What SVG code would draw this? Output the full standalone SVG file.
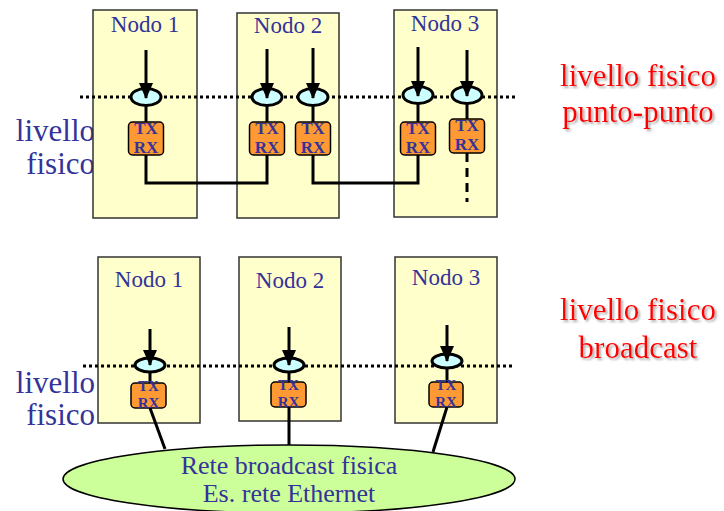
<svg xmlns="http://www.w3.org/2000/svg" width="724" height="511" viewBox="0 0 724 511">
<defs>
<style>
text{font-family:"Liberation Serif","Times New Roman",serif}
.box{fill:#ffffcc;stroke:#333333;stroke-width:1.5}
.lbl{font-size:23px;fill:#333399;text-anchor:middle}
.side{font-size:31px;fill:#333399;text-anchor:end}
.red{font-size:31px;fill:#ff0000;text-anchor:middle;filter:url(#sh)}
.dot{stroke:#000;stroke-width:3;stroke-dasharray:3 3;fill:none}
.port{fill:#ccffff;stroke:#000;stroke-width:3}
.tx{fill:#ff9933;stroke:#000;stroke-width:1.5}
.txt{font-size:17px;font-weight:bold;fill:#333399;text-anchor:middle}
.txs{font-size:15px;font-weight:bold;fill:#333399;text-anchor:middle}
.wire{stroke:#000;stroke-width:3;fill:none}
.arr{stroke:#000;stroke-width:3;fill:none;marker-end:url(#ah)}
.net{fill:#ccff99;stroke:#000;stroke-width:1.5}
.nett{font-size:26px;fill:#333399;text-anchor:middle}
</style>
<marker id="ah" viewBox="0 0 16 14" refX="15" refY="7" markerWidth="16" markerHeight="14" markerUnits="userSpaceOnUse" orient="auto">
<path d="M0,0 L16,7 L0,14 z" fill="#000"/>
</marker>
<filter id="sh" x="-10%" y="-20%" width="130%" height="150%">
<feDropShadow dx="2" dy="2" stdDeviation="0.8" flood-color="#999999" flood-opacity="0.8"/>
</filter>
</defs>

<g id="labels">
<text class="side" x="95" y="141">livello</text>
<text class="side" x="95" y="174">fisico</text>
<text class="side" x="95" y="393">livello</text>
<text class="side" x="95" y="425">fisico</text>
<text class="red" x="638" y="86">livello fisico</text>
<text class="red" x="638" y="122">punto-punto</text>
<text class="red" x="638" y="320">livello fisico</text>
<text class="red" x="638" y="358">broadcast</text>
</g>

<g id="top-nodo1"><rect class="box" x="93" y="10" width="104" height="208"/><text class="lbl" x="145" y="32">Nodo 1</text></g>
<g id="top-nodo2"><rect class="box" x="237" y="13" width="102" height="205"/><text class="lbl" x="288" y="33">Nodo 2</text></g>
<g id="top-nodo3"><rect class="box" x="394" y="10" width="103" height="207"/><text class="lbl" x="445" y="31">Nodo 3</text></g>

<g id="bot-nodo1"><rect class="box" x="98" y="257" width="102" height="166"/><text class="lbl" x="149" y="287">Nodo 1</text></g>
<g id="bot-nodo2"><rect class="box" x="239" y="257" width="102" height="164"/><text class="lbl" x="290" y="288">Nodo 2</text></g>
<g id="bot-nodo3"><rect class="box" x="395" y="257" width="102" height="166"/><text class="lbl" x="446" y="285">Nodo 3</text></g>

<g id="levels">
<line class="dot" x1="80" y1="97" x2="515" y2="97"/>
<line class="dot" x1="83" y1="366" x2="512" y2="366"/>
</g>

<g id="connectors">
<line class="wire" x1="146" y1="105" x2="146" y2="122"/>
<line class="wire" x1="267" y1="105" x2="267" y2="122"/>
<line class="wire" x1="313" y1="105" x2="313" y2="122"/>
<line class="wire" x1="418" y1="103" x2="418" y2="122"/>
<line class="wire" x1="467" y1="103" x2="467" y2="119"/>
<polyline class="wire" points="146,155 146,183 267,183 267,155"/>
<polyline class="wire" points="313,155 313,183 418,183 418,155"/>
<line class="wire" x1="467" y1="153" x2="467" y2="202" stroke-dasharray="9 6"/>
<line class="wire" x1="150" y1="372" x2="150" y2="383"/>
<line class="wire" x1="289" y1="372" x2="289" y2="382"/>
<line class="wire" x1="447" y1="368" x2="447" y2="382"/>
<line class="wire" x1="150" y1="408" x2="165" y2="449"/>
<line class="wire" x1="289" y1="407" x2="289" y2="446"/>
<line class="wire" x1="447" y1="407" x2="433" y2="452"/>
</g>

<g id="rete">
<ellipse class="net" cx="289" cy="479" rx="226" ry="34"/>
<text class="nett" x="289" y="474">Rete broadcast fisica</text>
<text class="nett" x="289" y="502">Es. rete Ethernet</text>
</g>

<g id="port-t1"><ellipse class="port" cx="146" cy="97" rx="15" ry="8.5"/><rect class="tx" x="128.5" y="122" width="35" height="33" rx="4"/><text class="txt" x="146" y="134">TX</text><text class="txt" x="146" y="153">RX</text></g>
<g id="port-t2"><ellipse class="port" cx="267" cy="97" rx="15" ry="8.5"/><rect class="tx" x="249.5" y="122" width="35" height="33" rx="4"/><text class="txt" x="267" y="134">TX</text><text class="txt" x="267" y="153">RX</text></g>
<g id="port-t3"><ellipse class="port" cx="313" cy="97" rx="15" ry="8.5"/><rect class="tx" x="295.5" y="122" width="35" height="33" rx="4"/><text class="txt" x="313" y="134">TX</text><text class="txt" x="313" y="153">RX</text></g>
<g id="port-t4"><ellipse class="port" cx="418" cy="95" rx="15" ry="8.5"/><rect class="tx" x="400.5" y="122" width="35" height="33" rx="4"/><text class="txt" x="418" y="134">TX</text><text class="txt" x="418" y="153">RX</text></g>
<g id="port-t5"><ellipse class="port" cx="467" cy="95" rx="15" ry="8.5"/><rect class="tx" x="449.5" y="119" width="35" height="34" rx="4"/><text class="txt" x="467" y="131">TX</text><text class="txt" x="467" y="150">RX</text></g>

<g id="port-b1"><ellipse class="port" cx="150" cy="365" rx="15" ry="7"/><rect class="tx" x="131" y="383" width="35" height="25" rx="4"/><text class="txs" x="148.5" y="391">TX</text><text class="txs" x="148.5" y="408">RX</text></g>
<g id="port-b2"><ellipse class="port" cx="289" cy="365" rx="15" ry="7"/><rect class="tx" x="271" y="382" width="35" height="25" rx="4"/><text class="txs" x="288.5" y="390">TX</text><text class="txs" x="288.5" y="407">RX</text></g>
<g id="port-b3"><ellipse class="port" cx="447" cy="361" rx="15" ry="7"/><rect class="tx" x="429" y="382" width="34" height="25" rx="4"/><text class="txs" x="446" y="390">TX</text><text class="txs" x="446" y="407">RX</text></g>

<g id="arrows">
<line class="arr" x1="146" y1="50" x2="146" y2="98"/>
<line class="arr" x1="267" y1="49" x2="267" y2="98"/>
<line class="arr" x1="313" y1="48" x2="313" y2="98"/>
<line class="arr" x1="418" y1="47" x2="418" y2="96"/>
<line class="arr" x1="467" y1="50" x2="467" y2="96"/>
<line class="arr" x1="150" y1="329" x2="150" y2="365"/>
<line class="arr" x1="289" y1="327" x2="289" y2="365"/>
<line class="arr" x1="447" y1="325" x2="447" y2="361"/>
</g>
</svg>
